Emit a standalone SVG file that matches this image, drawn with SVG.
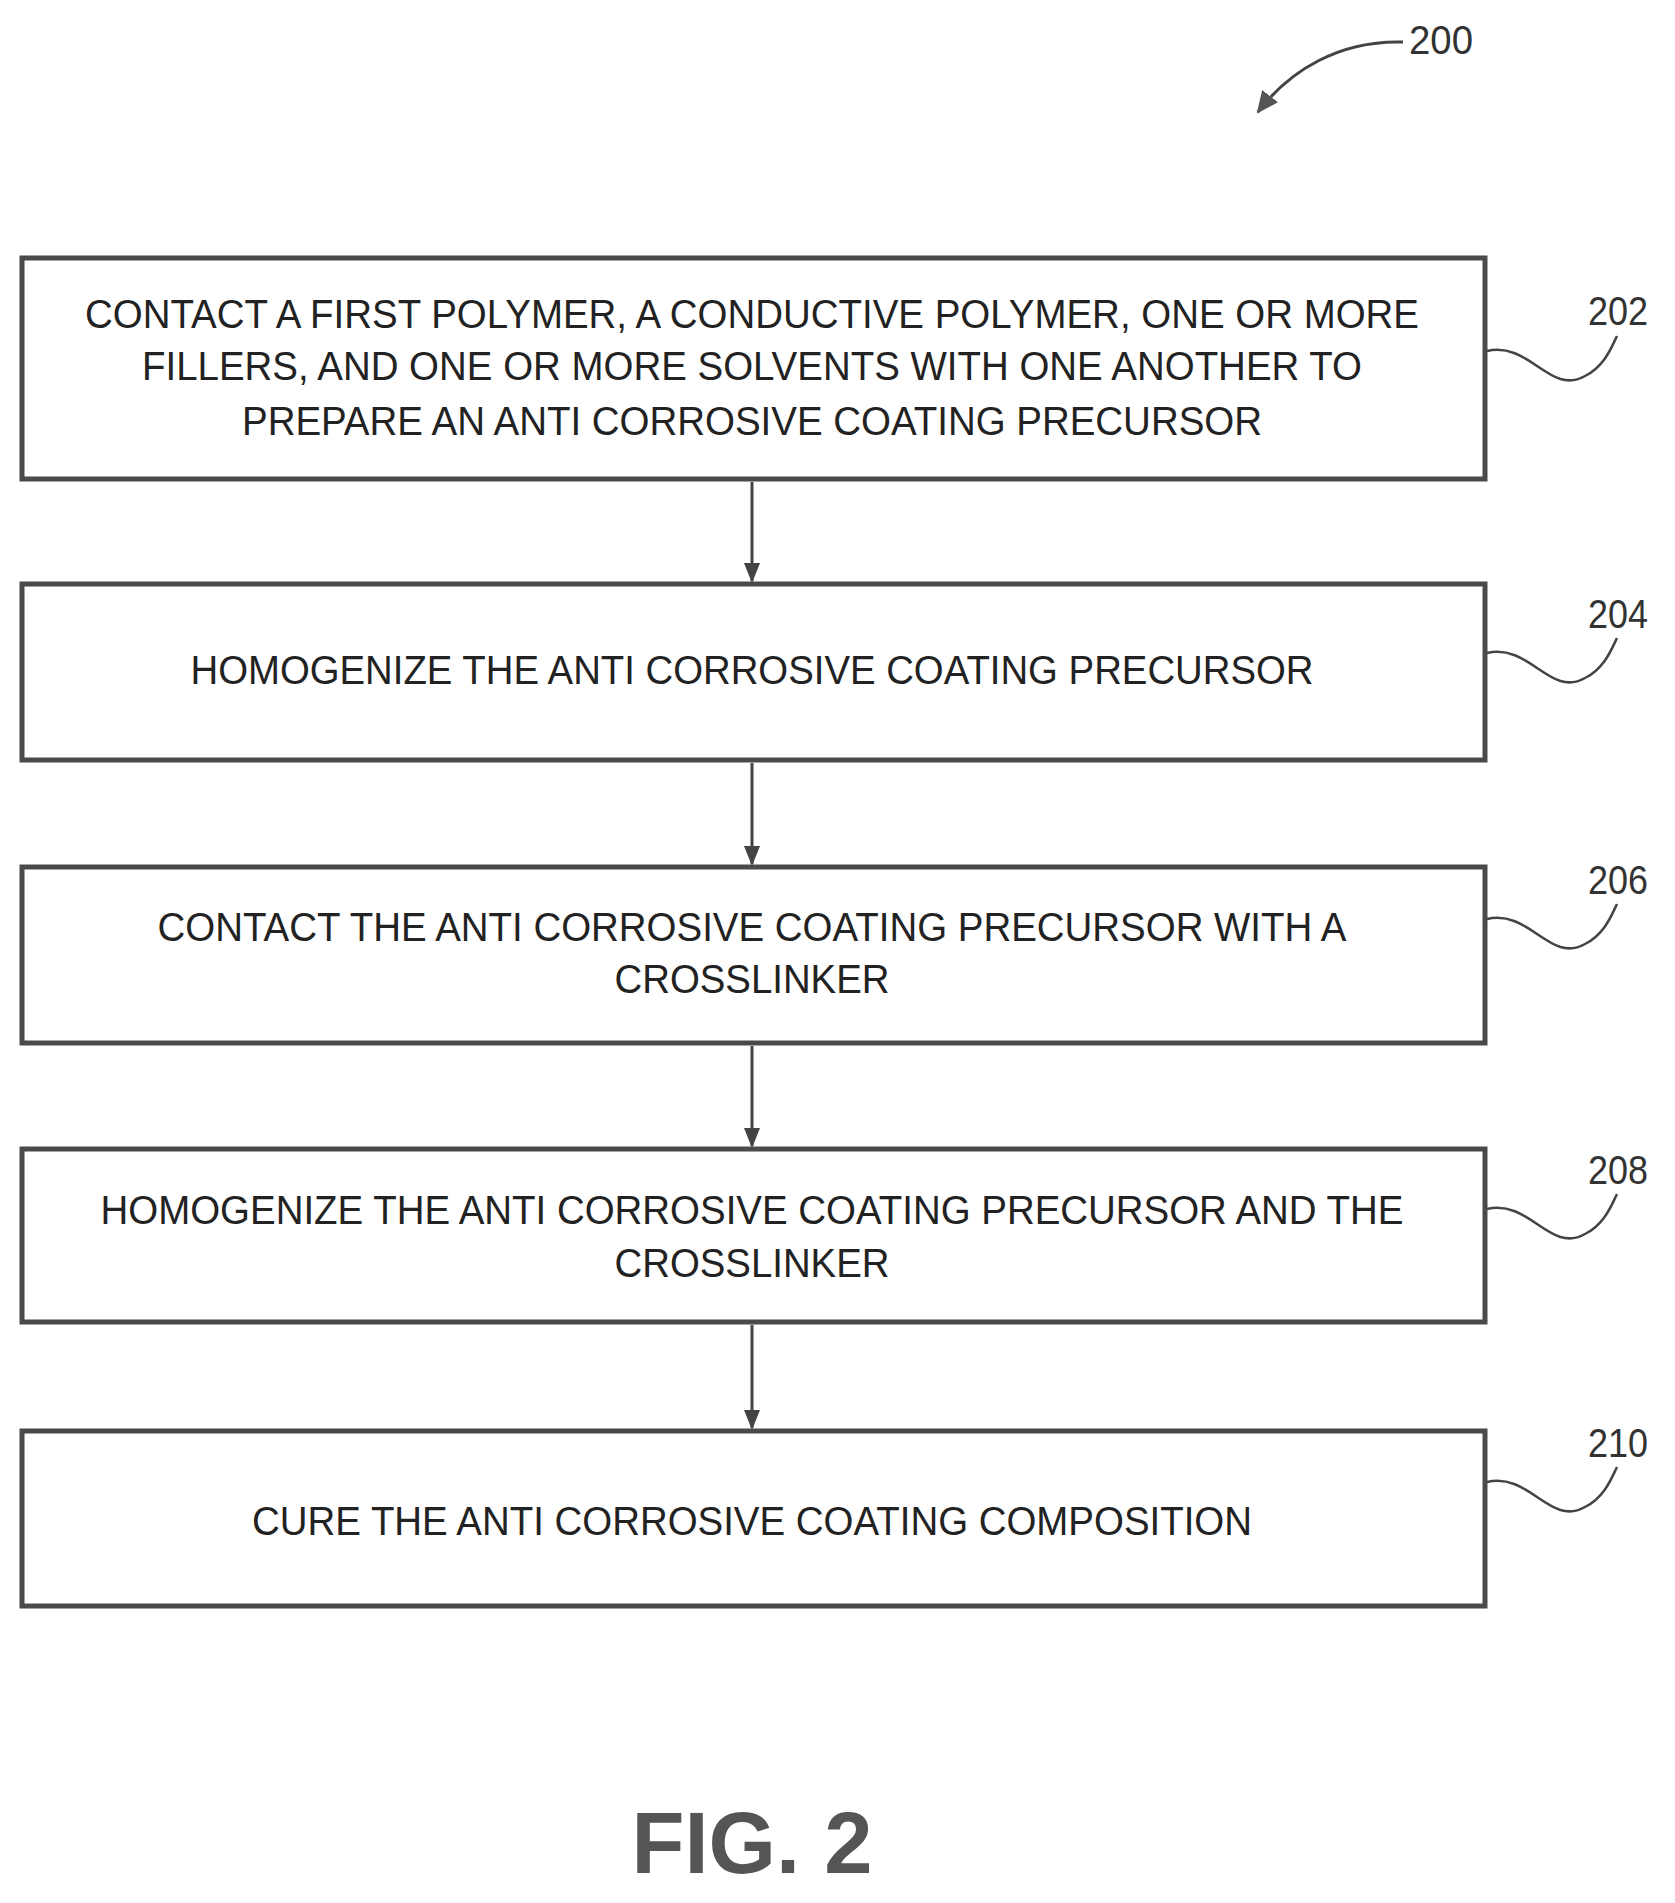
<svg xmlns="http://www.w3.org/2000/svg" width="1675" height="1903" viewBox="0 0 1675 1903">
<style>
.box{fill:#fff;stroke:#4a4a4a;stroke-width:5}
.t{font-family:"Liberation Sans",Arial,sans-serif;font-size:40px;fill:#222;text-anchor:middle}
.lbl{font-family:"Liberation Sans",Arial,sans-serif;font-size:40px;fill:#333}
.sq{fill:none;stroke:#444;stroke-width:2.5}
.c{stroke:#444;stroke-width:3;fill:none}
</style>
<defs>
<marker id="ah" markerWidth="20" markerHeight="20" refX="18" refY="10" orient="auto" markerUnits="userSpaceOnUse" viewBox="0 0 20 20"><path d="M0,2 L20,10 L0,18 Z" fill="#444"/></marker>
<marker id="ah2" markerWidth="24" markerHeight="24" refX="20" refY="12" orient="auto" markerUnits="userSpaceOnUse" viewBox="0 0 24 24"><path d="M0,2 L22,12 L0,22 Z" fill="#555"/></marker>
</defs>
<g id="ref200">
<text class="lbl" x="1409" y="54" textLength="64" lengthAdjust="spacingAndGlyphs">200</text>
<path class="c" d="M1403,42 C1340,40 1290,70 1258,112" marker-end="url(#ah2)"/>
</g>
<g id="n202">
<rect class="box" x="22" y="258" width="1463" height="221"/>
<text class="t" x="752" y="328" textLength="1334" lengthAdjust="spacingAndGlyphs">CONTACT A FIRST POLYMER, A CONDUCTIVE POLYMER, ONE OR MORE</text>
<text class="t" x="752" y="380" textLength="1220" lengthAdjust="spacingAndGlyphs">FILLERS, AND ONE OR MORE SOLVENTS WITH ONE ANOTHER TO</text>
<text class="t" x="752" y="435" textLength="1020" lengthAdjust="spacingAndGlyphs">PREPARE AN ANTI CORROSIVE COATING PRECURSOR</text>
<text class="lbl" x="1588" y="325" textLength="60" lengthAdjust="spacingAndGlyphs">202</text>
<path class="sq" d="M1487,351 C1530,341 1550,396 1585,376 C1605,366 1612,346 1617,336"/>
</g>
<g id="n204">
<rect class="box" x="22" y="584" width="1463" height="176"/>
<text class="t" x="752" y="684" textLength="1123" lengthAdjust="spacingAndGlyphs">HOMOGENIZE THE ANTI CORROSIVE COATING PRECURSOR</text>
<text class="lbl" x="1588" y="628" textLength="60" lengthAdjust="spacingAndGlyphs">204</text>
<path class="sq" d="M1487,653 C1530,643 1550,698 1585,678 C1605,668 1612,648 1617,638"/>
</g>
<g id="n206">
<rect class="box" x="22" y="867" width="1463" height="176"/>
<text class="t" x="752" y="941" textLength="1189" lengthAdjust="spacingAndGlyphs">CONTACT THE ANTI CORROSIVE COATING PRECURSOR WITH A</text>
<text class="t" x="752" y="993" textLength="275" lengthAdjust="spacingAndGlyphs">CROSSLINKER</text>
<text class="lbl" x="1588" y="894" textLength="60" lengthAdjust="spacingAndGlyphs">206</text>
<path class="sq" d="M1487,919 C1530,909 1550,964 1585,944 C1605,934 1612,914 1617,904"/>
</g>
<g id="n208">
<rect class="box" x="22" y="1149" width="1463" height="173"/>
<text class="t" x="752" y="1224" textLength="1303" lengthAdjust="spacingAndGlyphs">HOMOGENIZE THE ANTI CORROSIVE COATING PRECURSOR AND THE</text>
<text class="t" x="752" y="1277" textLength="275" lengthAdjust="spacingAndGlyphs">CROSSLINKER</text>
<text class="lbl" x="1588" y="1184" textLength="60" lengthAdjust="spacingAndGlyphs">208</text>
<path class="sq" d="M1487,1209 C1530,1199 1550,1254 1585,1234 C1605,1224 1612,1204 1617,1194"/>
</g>
<g id="n210">
<rect class="box" x="22" y="1431" width="1463" height="175"/>
<text class="t" x="752" y="1535" textLength="1000" lengthAdjust="spacingAndGlyphs">CURE THE ANTI CORROSIVE COATING COMPOSITION</text>
<text class="lbl" x="1588" y="1457" textLength="60" lengthAdjust="spacingAndGlyphs">210</text>
<path class="sq" d="M1487,1482 C1530,1472 1550,1527 1585,1507 C1605,1497 1612,1477 1617,1467"/>
</g>
<g id="connectors">
<line class="c" x1="752" y1="482" x2="752" y2="581" marker-end="url(#ah)"/>
<line class="c" x1="752" y1="763" x2="752" y2="864" marker-end="url(#ah)"/>
<line class="c" x1="752" y1="1046" x2="752" y2="1146" marker-end="url(#ah)"/>
<line class="c" x1="752" y1="1325" x2="752" y2="1428" marker-end="url(#ah)"/>
</g>
<text x="752" y="1873" font-family="Liberation Sans,Arial,sans-serif" font-weight="bold" font-size="88" fill="#555" text-anchor="middle" textLength="241" lengthAdjust="spacingAndGlyphs">FIG. 2</text>
</svg>
